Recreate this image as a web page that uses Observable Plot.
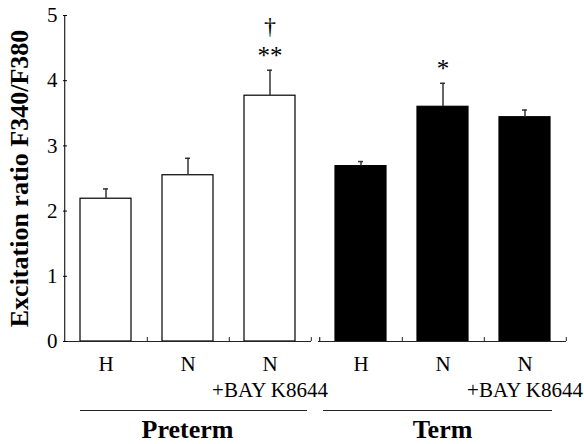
<!DOCTYPE html>
<html><head><meta charset="utf-8">
<script src="https://cdn.jsdelivr.net/npm/d3@7"></script>
<script src="https://cdn.jsdelivr.net/npm/@observablehq/plot@0.6"></script>
<style>
html,body{margin:0;padding:0;background:#fff;}
#chart svg{font-family:"Liberation Serif","Times New Roman",serif;color:#000;}
g[aria-label="y-axis label"] text{font-weight:bold;font-size:26px;}
</style></head><body><div id="chart"></div>
<script>
const groups = ["Preterm","Preterm","Preterm","Term","Term","Term"];
const conditions = ["H","N","N\n+BAY K8644","H","N","N\n+BAY K8644"];
const means = [2.19, 2.55, 3.77, 2.69, 3.60, 3.44];
const sems = [0.15, 0.26, 0.39, 0.07, 0.36, 0.11];
const stars = ["","","**","","*",""];
const daggers = ["","","†","","",""];
const yTicks = [0,1,2,3,4,5];
const groupOrder = ["Preterm","Term"];
const conditionOrder = ["H","N","N\n+BAY K8644"];
const yLabel = "Excitation ratio F340/F380";

const data = means.map((m,i)=>({group:groups[i], condition:conditions[i], mean:m, top:m+sems[i], star:stars[i], dagger:daggers[i]}));
const half = 41.3;

const chart = Plot.plot({
  width:584, height:444,
  marginLeft:63, marginRight:18, marginTop:15, marginBottom:103,
  fx:{domain:groupOrder, paddingInner:7/255, paddingOuter:0, label:null},
  x:{domain:conditionOrder, paddingInner:0.38, paddingOuter:0.19, label:null},
  y:{domain:[0,5], label:yLabel},
  marks:[
    Plot.barY(data, {fx:"group", x:"condition", y:"mean", fill:d=>d.group==="Term"?"black":"white", stroke:"black", strokeWidth:1.2}),
    Plot.ruleX(data, {fx:"group", x:"condition", y1:"mean", y2:"top", stroke:"#333", strokeWidth:1.5}),
    Plot.tickY(data, {fx:"group", x:"condition", y:"top", insetLeft:23, insetRight:23, stroke:"#333", strokeWidth:1.5}),
    Plot.text(data, {fx:"group", x:"condition", y:"top", text:"star", dy:-14, fontSize:25, fill:"black"}),
    Plot.text(data, {fx:"group", x:"condition", y:"top", text:"dagger", dy:-44, fontSize:24, fill:"black"}),
    Plot.ruleY([0], {stroke:"#222", strokeWidth:1.2}),
    Plot.ruleX(data, {fx:"group", x:"condition", y1:0, y2:0.06, dx:half, stroke:"#222"}),
    Plot.ruleX(data.filter(d=>d.condition==="H"), {fx:"group", x:"condition", y1:0, y2:d=>d.group==="Preterm"?5:0.06, dx:-half, stroke:"#222", strokeWidth:1.2}),
    Plot.ruleY([{group:"Preterm"}], {fx:"group", y:()=>0, dy:69, insetLeft:17, insetRight:4, stroke:"#222"}),
    Plot.ruleY([{group:"Term"}], {fx:"group", y:()=>0, dy:69, insetLeft:5, insetRight:14, stroke:"#222"}),
    Plot.axisY(yTicks, {tickSize:-4, tickPadding:10, tickFormat:d3.format("d"), fontSize:21, fill:"black", label:yLabel, labelAnchor:"center", labelOffset:54, labelArrow:"none"}),
    Plot.axisX({tickSize:0, tickPadding:12, fontSize:21, lineHeight:1.2, fill:"black", label:null}),
    Plot.axisFx({anchor:"bottom", tickSize:0, tickPadding:78, fontSize:26, fontWeight:"bold", fill:"black", label:null})
  ]
});
document.getElementById("chart").append(chart);
</script></body></html>
